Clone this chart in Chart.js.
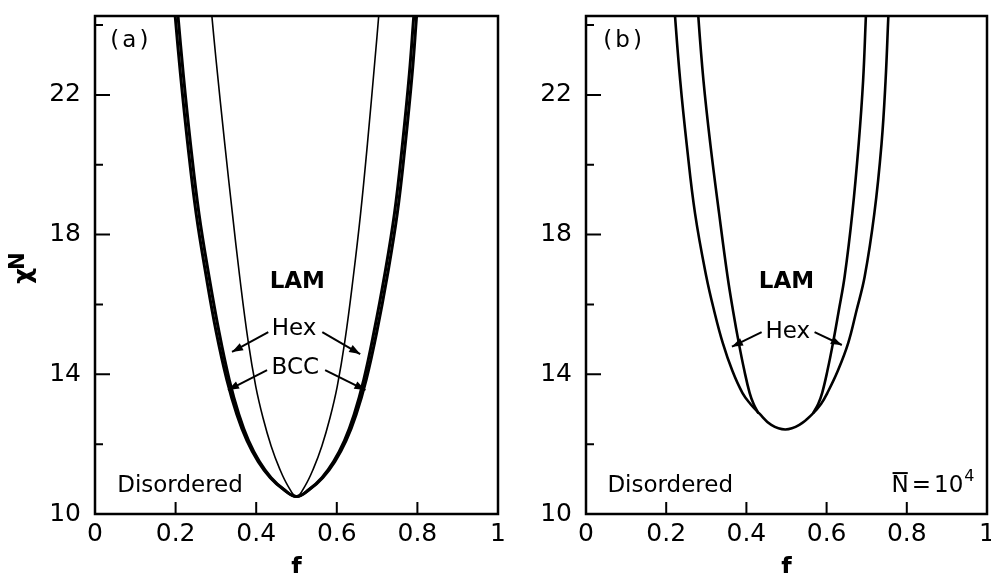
<!DOCTYPE html>
<html>
<head>
<meta charset="utf-8">
<script src="https://cdn.jsdelivr.net/npm/chart.js@4.4.1/dist/chart.umd.min.js"></script>
<style>
  html, body { margin: 0; padding: 0; background: #fff; }
  .wrap { position: relative; width: 991px; height: 573px; overflow: hidden; }
  .panel { position: absolute; top: 0; height: 573px; }
  #panelA { left: 0; width: 515px; }
  #panelB { left: 515px; width: 476px; }
</style>
</head>
<body>
<div class="wrap">
  <div class="panel" id="panelA"><canvas id="chartA"></canvas></div>
  <div class="panel" id="panelB"><canvas id="chartB"></canvas></div>
</div>
<script>
// axes
const fMin = 0, fMax = 1, fStep = 0.2
const chiMin = 10, chiMax = 24.26, chiStep = 2
const chiLabelled = [10, 14, 18, 22]

// (a) mean field: Disordered / BCC boundary (outer thick curve)
const aDisF = [0.191, 0.199, 0.212, 0.230, 0.251, 0.276, 0.301, 0.327, 0.352, 0.377, 0.405, 0.435, 0.468, 0.500,
               0.532, 0.565, 0.595, 0.623, 0.648, 0.673, 0.699, 0.725, 0.750, 0.770, 0.787, 0.798, 0.805]
// BCC / Hex boundary (just inside the outer one)
const aBccF = [0.198, 0.206, 0.219, 0.237, 0.258, 0.283, 0.308, 0.333, 0.357, 0.381, 0.408, 0.437, 0.469, 0.500,
               0.531, 0.563, 0.592, 0.619, 0.643, 0.667, 0.692, 0.718, 0.743, 0.763, 0.780, 0.791, 0.798]
const aOuterChiN = [25.3, 24.26, 22.6, 20.6, 18.6, 16.8, 15.2, 13.85, 12.85, 12.1, 11.5, 11.04, 10.7, 10.5,
                    10.7, 11.04, 11.5, 12.1, 12.85, 13.85, 15.2, 16.8, 18.6, 20.6, 22.6, 24.26, 25.3]
// Hex / LAM boundary (thin curve)
const aLamF = [0.2815, 0.290, 0.300, 0.322, 0.341, 0.359, 0.380, 0.399, 0.417, 0.437, 0.458, 0.479, 0.500,
               0.521, 0.542, 0.563, 0.583, 0.601, 0.620, 0.641, 0.659, 0.676, 0.695, 0.704, 0.711]
const aLamChiN = [25.3, 24.26, 23.05, 20.6, 18.6, 16.8, 14.95, 13.65, 12.75, 11.95, 11.3, 10.8, 10.5,
                  10.8, 11.3, 11.95, 12.75, 13.65, 14.95, 16.8, 18.6, 20.6, 23.05, 24.26, 25.3]

// (b) N = 10^4: Disordered boundary
const bDisF = [0.216, 0.222, 0.235, 0.251, 0.272, 0.300, 0.320, 0.341, 0.365, 0.390, 0.410, 0.432, 0.462, 0.497,
               0.532, 0.566, 0.586, 0.602, 0.628, 0.654, 0.674, 0.695, 0.719, 0.737, 0.747, 0.754, 0.758]
const bDisChiN = [25.3, 24.26, 22.4, 20.6, 18.6, 16.8, 15.8, 14.9, 14.1, 13.47, 13.15, 12.88, 12.55, 12.42,
                  12.55, 12.88, 13.15, 13.47, 14.1, 14.9, 15.8, 16.8, 18.6, 20.6, 22.4, 24.26, 25.3]
// Hex / LAM boundary, two branches
const bLamLeftF = [0.275, 0.280, 0.293, 0.310, 0.332, 0.353, 0.367, 0.381, 0.395, 0.408, 0.418, 0.430]
const bLamLeftChiN = [25.3, 24.26, 22.4, 20.6, 18.6, 16.8, 15.8, 14.9, 14.1, 13.47, 13.15, 12.88]
const bLamRightF = [0.566, 0.579, 0.589, 0.602, 0.616, 0.630, 0.645, 0.664, 0.680, 0.691, 0.698, 0.702]
const bLamRightChiN = [12.88, 13.15, 13.47, 14.1, 14.9, 15.8, 16.8, 18.6, 20.6, 22.4, 24.26, 25.3]

const FONT = '"DejaVu Sans", sans-serif'

function pts(fs, chis) {
    return fs.map((f, i) => ({ x: f, y: chis[i] }))
}

function curve(fs, chis, width) {
    return {
        data: pts(fs, chis),
        borderColor: '#000',
        borderWidth: width,
        pointRadius: 0,
        fill: false,
        tension: 0.4,
        clip: 0
    }
}

function drawArrow(ctx, x1, y1, x2, y2) {
    ctx.beginPath()
    ctx.moveTo(x1, y1)
    ctx.lineTo(x2, y2)
    ctx.stroke()
    const ang = Math.atan2(y2 - y1, x2 - x1)
    const len = 11, half = 4
    ctx.beginPath()
    ctx.moveTo(x2, y2)
    ctx.lineTo(x2 - len * Math.cos(ang) + half * Math.sin(ang), y2 - len * Math.sin(ang) - half * Math.cos(ang))
    ctx.lineTo(x2 - len * Math.cos(ang) - half * Math.sin(ang), y2 - len * Math.sin(ang) + half * Math.cos(ang))
    ctx.closePath()
    ctx.fill()
}

// frame, inward ticks, region labels, arrows
const decor = {
    id: 'decor',
    afterDatasetsDraw(chart, args, opts) {
        const { ctx, chartArea: a, scales: { x, y } } = chart
        ctx.save()
        ctx.strokeStyle = '#000'
        ctx.fillStyle = '#000'
        ctx.lineWidth = 2.5
        ctx.strokeRect(a.left, a.top, a.right - a.left, a.bottom - a.top)

        ctx.lineWidth = 2
        ctx.beginPath()
        x.ticks.forEach(t => {
            if (t.value > fMin + 0.01 && t.value < fMax - 0.01) {
                const px = x.getPixelForValue(t.value)
                ctx.moveTo(px, a.bottom)
                ctx.lineTo(px, a.bottom - 12)
            }
        })
        y.ticks.forEach(t => {
            if (t.value > chiMin && t.value <= chiMax) {
                const py = y.getPixelForValue(t.value)
                const len = chiLabelled.includes(t.value) ? 15 : 8
                ctx.moveTo(a.left, py)
                ctx.lineTo(a.left + len, py)
            }
        })
        ctx.stroke()

        ctx.textAlign = 'center'
        ctx.textBaseline = 'middle'
        opts.notes.forEach(n => {
            ctx.font = (n.bold ? 'bold ' : '') + '23px ' + FONT
            ctx.letterSpacing = n.spacing || '0px'
            ctx.fillText(n.text, x.getPixelForValue(n.f), y.getPixelForValue(n.chi))
        })
        ctx.letterSpacing = '0px'

        ctx.lineWidth = 2
        opts.arrows.forEach(r => {
            drawArrow(ctx, x.getPixelForValue(r[0]), y.getPixelForValue(r[1]),
                x.getPixelForValue(r[2]), y.getPixelForValue(r[3]))
        })

        if (opts.yTitle) {
            ctx.save()
            ctx.translate(24, 268)
            ctx.rotate(-Math.PI / 2)
            ctx.font = 'bold 25px ' + FONT
            ctx.textAlign = 'left'
            ctx.fillText('χ', -16, 0)
            ctx.font = 'bold 21px ' + FONT
            ctx.fillText('N', -2, -5)
            ctx.restore()
        }

        if (opts.nbar) {
            let px = x.getPixelForValue(opts.nbar.f)
            const py = y.getPixelForValue(opts.nbar.chi)
            ctx.textAlign = 'left'
            ctx.font = '23px ' + FONT
            const wN = ctx.measureText('N').width
            ctx.fillText('N', px, py)
            ctx.lineWidth = 2
            ctx.beginPath()
            ctx.moveTo(px + 1, py - 13)
            ctx.lineTo(px + wN - 1, py - 13)
            ctx.stroke()
            px += wN + 3
            ctx.fillText('=', px, py)
            px += ctx.measureText('=').width + 3
            ctx.fillText('10', px, py)
            px += ctx.measureText('10').width + 1
            ctx.font = '16px ' + FONT
            ctx.fillText('4', px, py - 9)
        }
        ctx.restore()
    }
}

function makeChart(id, datasets, axisWidth, padRight, decorOpts) {
    return new Chart(document.getElementById(id), {
        type: 'line',
        data: { datasets: datasets },
        plugins: [decor],
        options: {
            responsive: true,
            maintainAspectRatio: false,
            animation: false,
            events: [],
            layout: { padding: { top: 16, right: padRight, left: 0, bottom: 0 } },
            plugins: {
                legend: { display: false },
                tooltip: { enabled: false },
                decor: decorOpts
            },
            scales: {
                x: {
                    type: 'linear',
                    min: fMin,
                    max: fMax,
                    grid: { display: false, drawTicks: false },
                    border: { display: false },
                    ticks: {
                        stepSize: fStep,
                        padding: 5,
                        color: '#000',
                        font: { family: FONT, size: 25 },
                        maxRotation: 0,
                        callback: v => (Math.abs(v) < 1e-9 ? '0' : Math.abs(v - 1) < 1e-9 ? '1' : v.toFixed(1))
                    },
                    title: {
                        display: true,
                        text: 'f',
                        color: '#000',
                        padding: { top: 0, bottom: -8 },
                        font: { family: FONT, size: 24, weight: 'bold', lineHeight: 1 }
                    },
                    afterFit: s => { s.height = 59; s.paddingLeft = 0; s.paddingRight = 0 }
                },
                y: {
                    type: 'linear',
                    min: chiMin,
                    max: chiMax,
                    grid: { display: false, drawTicks: false },
                    border: { display: false },
                    ticks: {
                        stepSize: chiStep,
                        includeBounds: false,
                        padding: 14,
                        color: '#000',
                        font: { family: FONT, size: 25 },
                        callback: v => (chiLabelled.includes(v) ? String(v) : '')
                    },
                    afterFit: s => { s.width = axisWidth; s.paddingTop = 0; s.paddingBottom = 0 }
                }
            }
        }
    })
}

makeChart('chartA', [
    curve(aDisF, aOuterChiN, 3),
    curve(aBccF, aOuterChiN, 3),
    curve(aLamF, aLamChiN, 1.6)
], 95, 17, {
    yTitle: true,
    notes: [
        { text: '(a)', f: 0.089, chi: 23.55, spacing: '3px' },
        { text: 'LAM', f: 0.502, chi: 16.63, bold: true },
        { text: 'Hex', f: 0.494, chi: 15.3 },
        { text: 'BCC', f: 0.497, chi: 14.18 },
        { text: 'Disordered', f: 0.211, chi: 10.8 }
    ],
    arrows: [
        [0.43, 15.21, 0.34, 14.64],
        [0.564, 15.21, 0.658, 14.58],
        [0.427, 14.12, 0.33, 13.55],
        [0.571, 14.12, 0.671, 13.55]
    ]
})

makeChart('chartB', [
    curve(bDisF, bDisChiN, 2.6),
    curve(bLamLeftF, bLamLeftChiN, 2.6),
    curve(bLamRightF, bLamRightChiN, 2.6)
], 71, 4, {
    notes: [
        { text: '(b)', f: 0.095, chi: 23.55, spacing: '3px' },
        { text: 'LAM', f: 0.50, chi: 16.63, bold: true },
        { text: 'Hex', f: 0.503, chi: 15.2 },
        { text: 'Disordered', f: 0.21, chi: 10.8 }
    ],
    arrows: [
        [0.438, 15.21, 0.364, 14.79],
        [0.570, 15.21, 0.638, 14.84]
    ],
    nbar: { f: 0.762, chi: 10.8 }
})
</script>
</body>
</html>
